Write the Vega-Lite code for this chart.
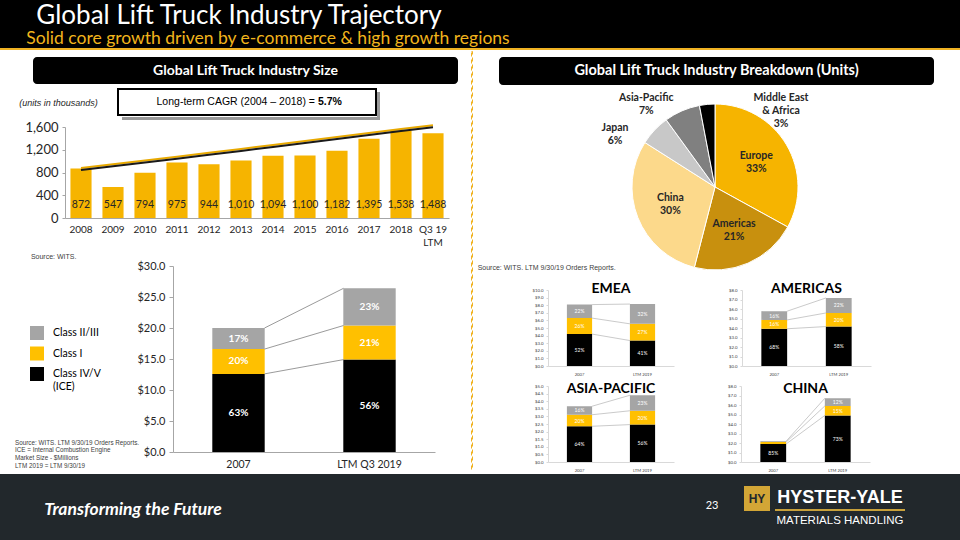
{
"$schema": "https://vega.github.io/schema/vega-lite/v6.json",
"padding": 0,
"autosize": {"type": "pad"},
"background": "#FFFFFF",
"spacing": 0,
"resolve": {"scale": {"color": "independent"}, "legend": {"color": "independent"}},
"config": {"view": {"stroke": null}, "font": "Lato", "axis": {"labelFont": "Lato"}, "legend": {"labelFont": "Lato"}, "title": {"font": "Lato"}, "text": {"font": "Lato"}},
"datasets": {
  "empty": [],
  "size": [
    {"year": "2008", "units": 872, "trend": 842},
    {"year": "2009", "units": 547, "trend": 908},
    {"year": "2010", "units": 794, "trend": 975},
    {"year": "2011", "units": 975, "trend": 1043},
    {"year": "2012", "units": 944, "trend": 1111},
    {"year": "2013", "units": 1010, "trend": 1180},
    {"year": "2014", "units": 1094, "trend": 1250},
    {"year": "2015", "units": 1100, "trend": 1320},
    {"year": "2016", "units": 1182, "trend": 1390},
    {"year": "2017", "units": 1395, "trend": 1460},
    {"year": "2018", "units": 1538, "trend": 1530},
    {"year": "Q3 19 LTM", "units": 1488, "trend": 1595}
  ],
  "market": [
    {"cat": "2007", "cls": "Class IV/V", "rank": 1, "v": 12.6, "pct": "63%"},
    {"cat": "2007", "cls": "Class I", "rank": 2, "v": 4.0, "pct": "20%"},
    {"cat": "2007", "cls": "Class II/III", "rank": 3, "v": 3.4, "pct": "17%"},
    {"cat": "LTM Q3 2019", "cls": "Class IV/V", "rank": 1, "v": 14.9, "pct": "56%"},
    {"cat": "LTM Q3 2019", "cls": "Class I", "rank": 2, "v": 5.5, "pct": "21%"},
    {"cat": "LTM Q3 2019", "cls": "Class II/III", "rank": 3, "v": 6.0, "pct": "23%"}
  ],
  "regions": [
    {"region": "EMEA", "cat": "2007", "cls": "Class IV/V", "rank": 1, "v": 4.2, "pct": "52%"},
    {"region": "EMEA", "cat": "2007", "cls": "Class I", "rank": 2, "v": 2.1, "pct": "26%"},
    {"region": "EMEA", "cat": "2007", "cls": "Class II/III", "rank": 3, "v": 1.78, "pct": "22%"},
    {"region": "EMEA", "cat": "LTM 2019", "cls": "Class IV/V", "rank": 1, "v": 3.35, "pct": "41%"},
    {"region": "EMEA", "cat": "LTM 2019", "cls": "Class I", "rank": 2, "v": 2.2, "pct": "27%"},
    {"region": "EMEA", "cat": "LTM 2019", "cls": "Class II/III", "rank": 3, "v": 2.6, "pct": "32%"},
    {"region": "AMERICAS", "cat": "2007", "cls": "Class IV/V", "rank": 1, "v": 3.92, "pct": "68%"},
    {"region": "AMERICAS", "cat": "2007", "cls": "Class I", "rank": 2, "v": 0.93, "pct": "16%"},
    {"region": "AMERICAS", "cat": "2007", "cls": "Class II/III", "rank": 3, "v": 0.92, "pct": "16%"},
    {"region": "AMERICAS", "cat": "LTM 2019", "cls": "Class IV/V", "rank": 1, "v": 4.15, "pct": "58%"},
    {"region": "AMERICAS", "cat": "LTM 2019", "cls": "Class I", "rank": 2, "v": 1.43, "pct": "20%"},
    {"region": "AMERICAS", "cat": "LTM 2019", "cls": "Class II/III", "rank": 3, "v": 1.58, "pct": "22%"},
    {"region": "ASIA-PACIFIC", "cat": "2007", "cls": "Class IV/V", "rank": 1, "v": 2.35, "pct": "64%"},
    {"region": "ASIA-PACIFIC", "cat": "2007", "cls": "Class I", "rank": 2, "v": 0.76, "pct": "20%"},
    {"region": "ASIA-PACIFIC", "cat": "2007", "cls": "Class II/III", "rank": 3, "v": 0.56, "pct": "16%"},
    {"region": "ASIA-PACIFIC", "cat": "LTM 2019", "cls": "Class IV/V", "rank": 1, "v": 2.46, "pct": "56%"},
    {"region": "ASIA-PACIFIC", "cat": "LTM 2019", "cls": "Class I", "rank": 2, "v": 0.91, "pct": "20%"},
    {"region": "ASIA-PACIFIC", "cat": "LTM 2019", "cls": "Class II/III", "rank": 3, "v": 1.02, "pct": "23%"},
    {"region": "CHINA", "cat": "2007", "cls": "Class IV/V", "rank": 1, "v": 1.9, "pct": "85%"},
    {"region": "CHINA", "cat": "2007", "cls": "Class I", "rank": 2, "v": 0.2, "pct": ""},
    {"region": "CHINA", "cat": "2007", "cls": "Class II/III", "rank": 3, "v": 0.09, "pct": ""},
    {"region": "CHINA", "cat": "LTM 2019", "cls": "Class IV/V", "rank": 1, "v": 4.9, "pct": "73%"},
    {"region": "CHINA", "cat": "LTM 2019", "cls": "Class I", "rank": 2, "v": 1.0, "pct": "15%"},
    {"region": "CHINA", "cat": "LTM 2019", "cls": "Class II/III", "rank": 3, "v": 0.81, "pct": "12%"}
  ],
  "pie": [
    {"region": "Europe", "share": 33, "rank": 1, "label": "Europe\n33%"},
    {"region": "Americas", "share": 21, "rank": 2, "label": "Americas\n21%"},
    {"region": "China", "share": 30, "rank": 3, "label": "China\n30%"},
    {"region": "Japan", "share": 6, "rank": 4, "label": "Japan\n6%"},
    {"region": "Asia-Pacific", "share": 7, "rank": 5, "label": "Asia-Pacific\n7%"},
    {"region": "Middle East & Africa", "share": 3, "rank": 6, "label": "Middle East\n& Africa\n3%"}
  ]
},
"vconcat": [
  {"spacing": 0, "vconcat": [
    {"spacing": 0, "hconcat": [
      {"width": 478, "height": 30, "view": {"fill": "#000000"}, "data": {"values": [{"t": "Global Lift Truck Industry Trajectory"}]}, "mark": {"type": "text", "fontSize": 26, "dy": 0.5, "color": "#FFFFFF"}, "encoding": {"text": {"field": "t", "type": "nominal"}}},
      {"width": 482, "height": 30, "view": {"fill": "#000000"}, "data": {"name": "empty"}, "mark": "point"}
    ]},
    {"spacing": 0, "hconcat": [
      {"width": 536, "height": 18, "view": {"fill": "#000000"}, "data": {"values": [{"t": "Solid core growth driven by e-commerce & high growth regions"}]}, "mark": {"type": "text", "fontSize": 17.5, "color": "#F2B51C"}, "encoding": {"text": {"field": "t", "type": "nominal"}}},
      {"width": 424, "height": 18, "view": {"fill": "#000000"}, "data": {"name": "empty"}, "mark": "point"}
    ]}
  ]},
  {"width": 960, "height": 2, "view": {"fill": "#F0B323"}, "data": {"name": "empty"}, "mark": "point"},
  {"spacing": 0, "resolve": {"scale": {"color": "independent"}, "legend": {"color": "independent"}}, "hconcat": [
    {"spacing": 0, "resolve": {"scale": {"color": "independent"}, "legend": {"color": "independent"}}, "vconcat": [
      {"width": 470, "height": 6, "data": {"name": "empty"}, "mark": "point"},
      {"spacing": 0, "hconcat": [
        {"width": 33, "height": 27, "data": {"name": "empty"}, "mark": "point"},
        {"width": 425, "height": 27, "view": {"fill": "#000000", "cornerRadius": 4}, "data": {"values": [{"t": "Global Lift Truck Industry Size"}]}, "mark": {"type": "text", "fontSize": 14, "fontWeight": "bold", "color": "#FFFFFF"}, "encoding": {"text": {"field": "t", "type": "nominal"}}}
      ]},
      {"spacing": 0, "hconcat": [
        {"width": 117, "height": 37, "data": {"values": [{"t": "(units in thousands)"}]}, "mark": {"type": "text", "font": "Liberation Sans", "fontSize": 9, "fontStyle": "italic", "color": "#262626"}, "encoding": {"text": {"field": "t", "type": "nominal"}}},
        {"spacing": 0, "vconcat": [
          {"width": 258, "height": 4, "data": {"name": "empty"}, "mark": "point"},
          {"spacing": 0, "hconcat": [
            {"width": 258, "height": 26, "view": {"fill": "#FFFFFF", "stroke": "#000000", "strokeWidth": 2}, "data": {"values": [{"a": "Long-term CAGR (2004 – 2018) =", "b": "5.7%"}]}, "layer": [
              {"mark": {"type": "text", "align": "right", "dx": 68, "font": "Liberation Sans", "fontSize": 10.5, "color": "#000000"}, "encoding": {"text": {"field": "a", "type": "nominal"}}},
              {"mark": {"type": "text", "align": "left", "dx": 71, "font": "Liberation Sans", "fontSize": 10.5, "fontWeight": "bold", "color": "#000000"}, "encoding": {"text": {"field": "b", "type": "nominal"}}}
            ]},
            {"spacing": 0, "vconcat": [
              {"width": 3, "height": 3, "data": {"name": "empty"}, "mark": "point"},
              {"width": 3, "height": 25, "view": {"fill": "#9A9A9A"}, "data": {"name": "empty"}, "mark": "point"}
            ]}
          ]},
          {"spacing": 0, "hconcat": [
            {"width": 4, "height": 3, "data": {"name": "empty"}, "mark": "point"},
            {"width": 258, "height": 3, "view": {"fill": "#9A9A9A"}, "data": {"name": "empty"}, "mark": "point"}
          ]}
        ]}
      ]},
      {"spacing": 0, "hconcat": [
        {"width": 24, "height": 10, "data": {"name": "empty"}, "mark": "point"},
        {"width": 384, "height": 91, "data": {"name": "size"},
         "title": {"text": "Source:  WITS.", "orient": "bottom", "anchor": "start", "frame": "bounds", "dx": 6, "offset": 6, "fontSize": 7, "font": "Liberation Sans", "fontWeight": "normal", "color": "#404040"},
         "encoding": {"x": {"field": "year", "type": "nominal", "sort": null, "title": null, "scale": {"paddingInner": 0.34, "paddingOuter": 0.17}, "axis": {"title": null, "labelAngle": 0, "labelFontSize": 10, "labelColor": "#262626", "ticks": false, "domainColor": "#A6A6A6", "labelPadding": 6, "labelLineHeight": 13, "labelExpr": "datum.value == 'Q3 19 LTM' ? ['Q3 19', 'LTM'] : datum.label"}}},
         "layer": [
           {"mark": {"type": "bar", "color": "#F6B400"}, "encoding": {"y": {"field": "units", "type": "quantitative", "title": null, "scale": {"domain": [0, 1600]}, "axis": {"title": null, "values": [0, 400, 800, 1200, 1600], "format": ",.0f", "labelFontSize": 13, "labelColor": "#262626", "domainColor": "#A6A6A6", "tickColor": "#A6A6A6", "tickSize": 3, "grid": false, "labelPadding": 4}}}},
           {"mark": {"type": "line", "color": "#E8A900", "strokeWidth": 2, "yOffset": -2}, "encoding": {"y": {"field": "trend", "type": "quantitative", "title": null, "axis": {"title": null, "values": [0, 400, 800, 1200, 1600], "format": ",.0f", "labelFontSize": 13, "labelColor": "#262626", "domainColor": "#A6A6A6", "tickColor": "#A6A6A6", "tickSize": 3, "grid": false, "labelPadding": 4}}}},
           {"mark": {"type": "line", "color": "#1A1A1A", "strokeWidth": 2}, "encoding": {"y": {"field": "trend", "type": "quantitative", "title": null, "axis": {"title": null, "values": [0, 400, 800, 1200, 1600], "format": ",.0f", "labelFontSize": 13, "labelColor": "#262626", "domainColor": "#A6A6A6", "tickColor": "#A6A6A6", "tickSize": 3, "grid": false, "labelPadding": 4}}}},
           {"mark": {"type": "text", "baseline": "bottom", "dy": -8, "fontSize": 10.5, "color": "#262626"}, "encoding": {"y": {"datum": 0, "type": "quantitative", "title": null, "axis": {"title": null, "values": [0, 400, 800, 1200, 1600], "format": ",.0f", "labelFontSize": 13, "labelColor": "#262626", "domainColor": "#A6A6A6", "tickColor": "#A6A6A6", "tickSize": 3, "grid": false, "labelPadding": 4}}, "text": {"field": "units", "type": "quantitative", "format": ","}}}
         ]}
      ]},
      {"spacing": 0, "resolve": {"scale": {"color": "independent"}, "legend": {"color": "independent"}}, "hconcat": [
        {"width": 15, "height": 10, "data": {"name": "empty"}, "mark": "point"},
        {"width": 262, "height": 186, "data": {"name": "market"},
         "title": {"text": ["Source: WITS.  LTM 9/30/19 Orders Reports.", "ICE = Internal Combustion Engine", "Market Size - $Millions", "LTM 2019 = LTM 9/30/19"], "orient": "bottom", "anchor": "start", "frame": "bounds", "dx": -15, "offset": -30, "fontSize": 6.3, "lineHeight": 7.7, "font": "Liberation Sans", "fontWeight": "normal", "color": "#404040"},
         "encoding": {"x": {"field": "cat", "type": "nominal", "title": null, "scale": {"domain": ["2007", "LTM Q3 2019"], "paddingInner": 0, "paddingOuter": 0}, "axis": {"title": null, "labelAngle": 0, "labelFontSize": 10.5, "labelColor": "#262626", "ticks": false, "domainColor": "#A6A6A6", "labelPadding": 7}}},
         "layer": [
           {"mark": {"type": "bar", "width": {"band": 0.4}},
            "encoding": {"y": {"field": "v", "type": "quantitative", "title": null, "stack": "zero", "scale": {"domain": [0, 30]}, "axis": {"title": null, "values": [0, 5, 10, 15, 20, 25, 30], "format": "$.1f", "labelFontSize": 11, "labelColor": "#262626", "domainColor": "#A6A6A6", "tickColor": "#A6A6A6", "tickSize": 4, "grid": false, "labelPadding": 4}},
              "color": {"field": "cls", "type": "nominal", "scale": {"domain": ["Class II/III", "Class I", "Class IV/V"], "range": ["#A5A5A5", "#FFC000", "#000000"]}, "legend": {"orient": "none", "legendX": -143, "legendY": 60, "title": null, "padding": 0, "symbolType": "square", "symbolSize": 196, "symbolStrokeWidth": 0, "symbolOpacity": 1, "labelFontSize": 10.5, "labelColor": "#000000", "rowPadding": 6.5, "labelOffset": 9, "labelExpr": "datum.label == 'Class IV/V' ? ['Class IV/V', '(ICE)'] : datum.label"}},
              "order": {"field": "rank", "type": "quantitative"}}},
           {"transform": [{"stack": "v", "groupby": ["cat"], "sort": [{"field": "rank", "order": "ascending"}], "as": ["s0", "s1"]}, {"pivot": "cat", "value": "s1", "groupby": ["cls"]}],
            "mark": {"type": "rule", "color": "#808080", "strokeWidth": 0.8, "xOffset": 26, "x2Offset": -26},
            "encoding": {"x": {"datum": "2007", "type": "nominal", "title": null}, "x2": {"datum": "LTM Q3 2019"}, "y": {"field": "2007", "type": "quantitative", "title": null, "axis": {"title": null, "values": [0, 5, 10, 15, 20, 25, 30], "format": "$.1f", "labelFontSize": 11, "labelColor": "#262626", "domainColor": "#A6A6A6", "tickColor": "#A6A6A6", "tickSize": 4, "grid": false, "labelPadding": 4}}, "y2": {"field": "LTM Q3 2019"}}},
           {"mark": {"type": "text", "color": "#FFFFFF", "fontWeight": "bold", "fontSize": 10},
            "encoding": {"y": {"field": "v", "type": "quantitative", "title": null, "stack": "zero", "bandPosition": 0.5, "axis": {"title": null, "values": [0, 5, 10, 15, 20, 25, 30], "format": "$.1f", "labelFontSize": 11, "labelColor": "#262626", "domainColor": "#A6A6A6", "tickColor": "#A6A6A6", "tickSize": 4, "grid": false, "labelPadding": 4}}, "order": {"field": "rank", "type": "quantitative"}, "text": {"field": "pct", "type": "nominal"}}}
         ]}
      ]},
      {"width": 470, "height": 4, "data": {"name": "empty"}, "mark": "point"}
    ]},
    {"width": 1, "height": 418, "view": {"stroke": "#F0B323", "strokeDash": [4, 3], "strokeWidth": 1}, "data": {"name": "empty"}, "mark": "point"},
    {"spacing": 0, "resolve": {"scale": {"color": "independent"}, "legend": {"color": "independent"}}, "vconcat": [
      {"width": 489, "height": 6, "data": {"name": "empty"}, "mark": "point"},
      {"spacing": 0, "hconcat": [
        {"width": 26, "height": 28, "data": {"name": "empty"}, "mark": "point"},
        {"width": 435, "height": 28, "view": {"fill": "#000000", "cornerRadius": 4}, "data": {"values": [{"t": "Global Lift Truck Industry Breakdown (Units)"}]}, "mark": {"type": "text", "fontSize": 14.5, "fontWeight": "bold", "color": "#FFFFFF"}, "encoding": {"text": {"field": "t", "type": "nominal"}}}
      ]},
      {"width": 489, "height": 8, "data": {"name": "empty"}, "mark": "point"},
      {"spacing": 0, "resolve": {"scale": {"color": "independent"}, "legend": {"color": "independent"}}, "hconcat": [
        {"width": 4, "height": 10, "data": {"name": "empty"}, "mark": "point"},
        {"width": 166, "height": 166, "data": {"name": "pie"},
         "title": {"text": "Source:  WITS.  LTM 9/30/19 Orders Reports.", "orient": "bottom", "anchor": "start", "frame": "bounds", "dx": -124, "offset": -8, "fontSize": 7, "font": "Liberation Sans", "fontWeight": "normal", "color": "#404040"},
         "layer": [
           {"mark": {"type": "arc", "stroke": "#FFFFFF", "strokeWidth": 1}, "encoding": {"theta": {"field": "share", "type": "quantitative", "stack": true}, "order": {"field": "rank", "type": "quantitative"}, "color": {"field": "region", "type": "nominal", "scale": {"domain": ["Europe", "Americas", "China", "Japan", "Asia-Pacific", "Middle East & Africa"], "range": ["#F6B400", "#C8900E", "#FCD98B", "#C8C8C8", "#808080", "#000000"]}, "legend": null}}},
           {"transform": [{"filter": "datum.rank <= 3"}], "mark": {"type": "text", "radius": 48, "dy": -7, "lineBreak": "\n", "lineHeight": 13, "fontWeight": "bold", "fontSize": 10.5, "color": "#262626"}, "encoding": {"theta": {"field": "share", "type": "quantitative", "stack": true}, "order": {"field": "rank", "type": "quantitative"}, "text": {"field": "label", "type": "nominal"}}},
           {"transform": [{"stack": "share", "groupby": [], "sort": [{"field": "rank", "order": "ascending"}], "as": ["t0", "t1"]}, {"filter": "datum.region == 'Japan'"}], "mark": {"type": "text", "radius": 116, "dx": -2, "dy": 3, "lineBreak": "\n", "lineHeight": 13, "fontWeight": "bold", "fontSize": 10.5, "color": "#262626"}, "encoding": {"theta": {"field": "t0", "type": "quantitative", "stack": null}, "text": {"field": "label", "type": "nominal"}}},
           {"transform": [{"stack": "share", "groupby": [], "sort": [{"field": "rank", "order": "ascending"}], "as": ["t0", "t1"]}, {"filter": "datum.region == 'Asia-Pacific'"}], "mark": {"type": "text", "radius": 110, "dx": -4, "lineBreak": "\n", "lineHeight": 13, "fontWeight": "bold", "fontSize": 10.5, "color": "#262626"}, "encoding": {"theta": {"field": "t0", "type": "quantitative", "stack": null}, "text": {"field": "label", "type": "nominal"}}},
           {"transform": [{"stack": "share", "groupby": [], "sort": [{"field": "rank", "order": "ascending"}], "as": ["t0", "t1"]}, {"filter": "datum.region == 'Middle East & Africa'"}], "mark": {"type": "text", "radius": 111, "dx": 66, "dy": 22, "lineBreak": "\n", "lineHeight": 13, "fontWeight": "bold", "fontSize": 10.5, "color": "#262626"}, "encoding": {"theta": {"field": "t1", "type": "quantitative", "stack": null}, "text": {"field": "label", "type": "nominal"}}}
         ]}
      ]},
      {"width": 489, "height": 10, "data": {"name": "empty"}, "mark": "point"},
      {"spacing": 0, "resolve": {"scale": {"color": "independent"}, "legend": {"color": "independent"}}, "hconcat": [
        {"width": 59, "height": 10, "data": {"name": "empty"}, "mark": "point"},
        {"width": 126, "height": 76, "title": {"text": "EMEA", "fontSize": 14, "fontWeight": "bold", "color": "#000000", "offset": -8},
         "data": {"name": "regions"}, "transform": [{"filter": "datum.region == 'EMEA'"}],
         "encoding": {"x": {"field": "cat", "type": "nominal", "title": null, "scale": {"domain": ["2007", "LTM 2019"], "paddingInner": 0, "paddingOuter": 0}, "axis": {"title": null, "labelAngle": 0, "labelFontSize": 4.2, "labelColor": "#404040", "ticks": false, "domainColor": "#D9D9D9", "labelPadding": 6}}},
         "layer": [
           {"mark": {"type": "bar", "width": {"band": 0.4}}, "encoding": {"y": {"field": "v", "type": "quantitative", "title": null, "stack": "zero", "scale": {"domain": [0, 10]}, "axis": {"title": null, "values": [0, 1, 2, 3, 4, 5, 6, 7, 8, 9, 10], "format": "$.1f", "labelFontSize": 4.3, "labelColor": "#404040", "tickSize": 2, "tickColor": "#D9D9D9", "domainColor": "#D9D9D9", "grid": false, "labelPadding": 3}}, "color": {"field": "cls", "type": "nominal", "scale": {"domain": ["Class II/III", "Class I", "Class IV/V"], "range": ["#A5A5A5", "#FFC000", "#000000"]}, "legend": null}, "order": {"field": "rank", "type": "quantitative"}}},
           {"transform": [{"stack": "v", "groupby": ["cat"], "sort": [{"field": "rank", "order": "ascending"}], "as": ["s0", "s1"]}, {"pivot": "cat", "value": "s1", "groupby": ["cls"]}],
            "mark": {"type": "rule", "color": "#A6A6A6", "strokeWidth": 0.6, "xOffset": 12.6, "x2Offset": -12.6},
            "encoding": {"x": {"datum": "2007", "type": "nominal", "title": null}, "x2": {"datum": "LTM 2019"}, "y": {"field": "2007", "type": "quantitative", "title": null, "axis": {"title": null, "values": [0, 1, 2, 3, 4, 5, 6, 7, 8, 9, 10], "format": "$.1f", "labelFontSize": 4.3, "labelColor": "#404040", "tickSize": 2, "tickColor": "#D9D9D9", "domainColor": "#D9D9D9", "grid": false, "labelPadding": 3}}, "y2": {"field": "LTM 2019"}}},
           {"mark": {"type": "text", "color": "#FFFFFF", "fontSize": 5}, "encoding": {"y": {"field": "v", "type": "quantitative", "title": null, "stack": "zero", "bandPosition": 0.5, "axis": {"title": null, "values": [0, 1, 2, 3, 4, 5, 6, 7, 8, 9, 10], "format": "$.1f", "labelFontSize": 4.3, "labelColor": "#404040", "tickSize": 2, "tickColor": "#D9D9D9", "domainColor": "#D9D9D9", "grid": false, "labelPadding": 3}}, "order": {"field": "rank", "type": "quantitative"}, "text": {"field": "pct", "type": "nominal"}}}
         ]},
        {"width": 54, "height": 10, "data": {"name": "empty"}, "mark": "point"},
        {"width": 129, "height": 76, "title": {"text": "AMERICAS", "fontSize": 14, "fontWeight": "bold", "color": "#000000", "offset": -8},
         "data": {"name": "regions"}, "transform": [{"filter": "datum.region == 'AMERICAS'"}],
         "encoding": {"x": {"field": "cat", "type": "nominal", "title": null, "scale": {"domain": ["2007", "LTM 2019"], "paddingInner": 0, "paddingOuter": 0}, "axis": {"title": null, "labelAngle": 0, "labelFontSize": 4.2, "labelColor": "#404040", "ticks": false, "domainColor": "#D9D9D9", "labelPadding": 6}}},
         "layer": [
           {"mark": {"type": "bar", "width": {"band": 0.4}}, "encoding": {"y": {"field": "v", "type": "quantitative", "title": null, "stack": "zero", "scale": {"domain": [0, 8]}, "axis": {"title": null, "values": [0, 1, 2, 3, 4, 5, 6, 7, 8], "format": "$.1f", "labelFontSize": 4.3, "labelColor": "#404040", "tickSize": 2, "tickColor": "#D9D9D9", "domainColor": "#D9D9D9", "grid": false, "labelPadding": 3}}, "color": {"field": "cls", "type": "nominal", "scale": {"domain": ["Class II/III", "Class I", "Class IV/V"], "range": ["#A5A5A5", "#FFC000", "#000000"]}, "legend": null}, "order": {"field": "rank", "type": "quantitative"}}},
           {"transform": [{"stack": "v", "groupby": ["cat"], "sort": [{"field": "rank", "order": "ascending"}], "as": ["s0", "s1"]}, {"pivot": "cat", "value": "s1", "groupby": ["cls"]}],
            "mark": {"type": "rule", "color": "#A6A6A6", "strokeWidth": 0.6, "xOffset": 12.9, "x2Offset": -12.9},
            "encoding": {"x": {"datum": "2007", "type": "nominal", "title": null}, "x2": {"datum": "LTM 2019"}, "y": {"field": "2007", "type": "quantitative", "title": null, "axis": {"title": null, "values": [0, 1, 2, 3, 4, 5, 6, 7, 8], "format": "$.1f", "labelFontSize": 4.3, "labelColor": "#404040", "tickSize": 2, "tickColor": "#D9D9D9", "domainColor": "#D9D9D9", "grid": false, "labelPadding": 3}}, "y2": {"field": "LTM 2019"}}},
           {"mark": {"type": "text", "color": "#FFFFFF", "fontSize": 5}, "encoding": {"y": {"field": "v", "type": "quantitative", "title": null, "stack": "zero", "bandPosition": 0.5, "axis": {"title": null, "values": [0, 1, 2, 3, 4, 5, 6, 7, 8], "format": "$.1f", "labelFontSize": 4.3, "labelColor": "#404040", "tickSize": 2, "tickColor": "#D9D9D9", "domainColor": "#D9D9D9", "grid": false, "labelPadding": 3}}, "order": {"field": "rank", "type": "quantitative"}, "text": {"field": "pct", "type": "nominal"}}}
         ]}
      ]},
      {"width": 489, "height": 5, "data": {"name": "empty"}, "mark": "point"},
      {"spacing": 0, "resolve": {"scale": {"color": "independent"}, "legend": {"color": "independent"}}, "hconcat": [
        {"width": 61, "height": 10, "data": {"name": "empty"}, "mark": "point"},
        {"width": 126, "height": 76, "title": {"text": "ASIA-PACIFIC", "fontSize": 14, "fontWeight": "bold", "color": "#000000", "offset": -12},
         "data": {"name": "regions"}, "transform": [{"filter": "datum.region == 'ASIA-PACIFIC'"}],
         "encoding": {"x": {"field": "cat", "type": "nominal", "title": null, "scale": {"domain": ["2007", "LTM 2019"], "paddingInner": 0, "paddingOuter": 0}, "axis": {"title": null, "labelAngle": 0, "labelFontSize": 4.2, "labelColor": "#404040", "ticks": false, "domainColor": "#D9D9D9", "labelPadding": 6}}},
         "layer": [
           {"mark": {"type": "bar", "width": {"band": 0.4}}, "encoding": {"y": {"field": "v", "type": "quantitative", "title": null, "stack": "zero", "scale": {"domain": [0, 5]}, "axis": {"title": null, "values": [0, 0.5, 1, 1.5, 2, 2.5, 3, 3.5, 4, 4.5, 5], "format": "$.1f", "labelFontSize": 4.3, "labelColor": "#404040", "tickSize": 2, "tickColor": "#D9D9D9", "domainColor": "#D9D9D9", "grid": false, "labelPadding": 3}}, "color": {"field": "cls", "type": "nominal", "scale": {"domain": ["Class II/III", "Class I", "Class IV/V"], "range": ["#A5A5A5", "#FFC000", "#000000"]}, "legend": null}, "order": {"field": "rank", "type": "quantitative"}}},
           {"transform": [{"stack": "v", "groupby": ["cat"], "sort": [{"field": "rank", "order": "ascending"}], "as": ["s0", "s1"]}, {"pivot": "cat", "value": "s1", "groupby": ["cls"]}],
            "mark": {"type": "rule", "color": "#A6A6A6", "strokeWidth": 0.6, "xOffset": 12.6, "x2Offset": -12.6},
            "encoding": {"x": {"datum": "2007", "type": "nominal", "title": null}, "x2": {"datum": "LTM 2019"}, "y": {"field": "2007", "type": "quantitative", "title": null, "axis": {"title": null, "values": [0, 0.5, 1, 1.5, 2, 2.5, 3, 3.5, 4, 4.5, 5], "format": "$.1f", "labelFontSize": 4.3, "labelColor": "#404040", "tickSize": 2, "tickColor": "#D9D9D9", "domainColor": "#D9D9D9", "grid": false, "labelPadding": 3}}, "y2": {"field": "LTM 2019"}}},
           {"mark": {"type": "text", "color": "#FFFFFF", "fontSize": 5}, "encoding": {"y": {"field": "v", "type": "quantitative", "title": null, "stack": "zero", "bandPosition": 0.5, "axis": {"title": null, "values": [0, 0.5, 1, 1.5, 2, 2.5, 3, 3.5, 4, 4.5, 5], "format": "$.1f", "labelFontSize": 4.3, "labelColor": "#404040", "tickSize": 2, "tickColor": "#D9D9D9", "domainColor": "#D9D9D9", "grid": false, "labelPadding": 3}}, "order": {"field": "rank", "type": "quantitative"}, "text": {"field": "pct", "type": "nominal"}}}
         ]},
        {"width": 53, "height": 10, "data": {"name": "empty"}, "mark": "point"},
        {"width": 129, "height": 76, "title": {"text": "CHINA", "fontSize": 14, "fontWeight": "bold", "color": "#000000", "offset": -12},
         "data": {"name": "regions"}, "transform": [{"filter": "datum.region == 'CHINA'"}],
         "encoding": {"x": {"field": "cat", "type": "nominal", "title": null, "scale": {"domain": ["2007", "LTM 2019"], "paddingInner": 0, "paddingOuter": 0}, "axis": {"title": null, "labelAngle": 0, "labelFontSize": 4.2, "labelColor": "#404040", "ticks": false, "domainColor": "#D9D9D9", "labelPadding": 6}}},
         "layer": [
           {"mark": {"type": "bar", "width": {"band": 0.4}}, "encoding": {"y": {"field": "v", "type": "quantitative", "title": null, "stack": "zero", "scale": {"domain": [0, 8]}, "axis": {"title": null, "values": [0, 1, 2, 3, 4, 5, 6, 7, 8], "format": "$.1f", "labelFontSize": 4.3, "labelColor": "#404040", "tickSize": 2, "tickColor": "#D9D9D9", "domainColor": "#D9D9D9", "grid": false, "labelPadding": 3}}, "color": {"field": "cls", "type": "nominal", "scale": {"domain": ["Class II/III", "Class I", "Class IV/V"], "range": ["#A5A5A5", "#FFC000", "#000000"]}, "legend": null}, "order": {"field": "rank", "type": "quantitative"}}},
           {"transform": [{"stack": "v", "groupby": ["cat"], "sort": [{"field": "rank", "order": "ascending"}], "as": ["s0", "s1"]}, {"pivot": "cat", "value": "s1", "groupby": ["cls"]}],
            "mark": {"type": "rule", "color": "#A6A6A6", "strokeWidth": 0.6, "xOffset": 12.9, "x2Offset": -12.9},
            "encoding": {"x": {"datum": "2007", "type": "nominal", "title": null}, "x2": {"datum": "LTM 2019"}, "y": {"field": "2007", "type": "quantitative", "title": null, "axis": {"title": null, "values": [0, 1, 2, 3, 4, 5, 6, 7, 8], "format": "$.1f", "labelFontSize": 4.3, "labelColor": "#404040", "tickSize": 2, "tickColor": "#D9D9D9", "domainColor": "#D9D9D9", "grid": false, "labelPadding": 3}}, "y2": {"field": "LTM 2019"}}},
           {"mark": {"type": "text", "color": "#FFFFFF", "fontSize": 5}, "encoding": {"y": {"field": "v", "type": "quantitative", "title": null, "stack": "zero", "bandPosition": 0.5, "axis": {"title": null, "values": [0, 1, 2, 3, 4, 5, 6, 7, 8], "format": "$.1f", "labelFontSize": 4.3, "labelColor": "#404040", "tickSize": 2, "tickColor": "#D9D9D9", "domainColor": "#D9D9D9", "grid": false, "labelPadding": 3}}, "order": {"field": "rank", "type": "quantitative"}, "text": {"field": "pct", "type": "nominal"}}}
         ]}
      ]},
      {"width": 489, "height": 1, "data": {"name": "empty"}, "mark": "point"}
    ]}
  ]},
  {"spacing": 0, "hconcat": [
    {"width": 266, "height": 66, "view": {"fill": "#22282C"}, "data": {"values": [{"t": "Transforming the Future"}]}, "mark": {"type": "text", "fontSize": 17.5, "fontWeight": "bold", "fontStyle": "italic", "color": "#FFFFFF", "dy": 3}, "encoding": {"text": {"field": "t", "type": "nominal"}}},
    {"width": 434, "height": 66, "view": {"fill": "#22282C"}, "data": {"name": "empty"}, "mark": "point"},
    {"width": 24, "height": 66, "view": {"fill": "#22282C"}, "data": {"values": [{"t": "23"}]}, "mark": {"type": "text", "fontSize": 11, "dy": -1, "color": "#FFFFFF"}, "encoding": {"text": {"field": "t", "type": "nominal"}}},
    {"width": 20, "height": 66, "view": {"fill": "#22282C"}, "data": {"name": "empty"}, "mark": "point"},
    {"spacing": 0, "vconcat": [
      {"width": 26, "height": 12, "view": {"fill": "#22282C"}, "data": {"name": "empty"}, "mark": "point"},
      {"width": 26, "height": 25, "view": {"fill": "#D3A636"}, "data": {"values": [{"t": "HY"}]}, "mark": {"type": "text", "fontSize": 12, "fontWeight": "bold", "font": "Liberation Sans", "color": "#22282C"}, "encoding": {"text": {"field": "t", "type": "nominal"}}},
      {"width": 26, "height": 29, "view": {"fill": "#22282C"}, "data": {"name": "empty"}, "mark": "point"}
    ]},
    {"spacing": 0, "vconcat": [
      {"width": 140, "height": 13, "view": {"fill": "#22282C"}, "data": {"name": "empty"}, "mark": "point"},
      {"width": 140, "height": 22, "view": {"fill": "#22282C"}, "data": {"values": [{"t": "HYSTER-YALE"}]}, "mark": {"type": "text", "fontSize": 18, "fontWeight": "bold", "font": "Liberation Sans", "color": "#FFFFFF"}, "encoding": {"text": {"field": "t", "type": "nominal"}}},
      {"spacing": 0, "hconcat": [
        {"width": 5, "height": 2, "view": {"fill": "#22282C"}, "data": {"name": "empty"}, "mark": "point"},
        {"width": 130, "height": 2, "view": {"fill": "#C9A13B"}, "data": {"name": "empty"}, "mark": "point"},
        {"width": 5, "height": 2, "view": {"fill": "#22282C"}, "data": {"name": "empty"}, "mark": "point"}
      ]},
      {"width": 140, "height": 3, "view": {"fill": "#22282C"}, "data": {"name": "empty"}, "mark": "point"},
      {"width": 140, "height": 14, "view": {"fill": "#22282C"}, "data": {"values": [{"t": "MATERIALS HANDLING"}]}, "mark": {"type": "text", "fontSize": 11.5, "font": "Liberation Sans", "color": "#FFFFFF"}, "encoding": {"text": {"field": "t", "type": "nominal"}}},
      {"width": 140, "height": 12, "view": {"fill": "#22282C"}, "data": {"name": "empty"}, "mark": "point"}
    ]},
    {"width": 50, "height": 66, "view": {"fill": "#22282C"}, "data": {"name": "empty"}, "mark": "point"}
  ]}
]
}
